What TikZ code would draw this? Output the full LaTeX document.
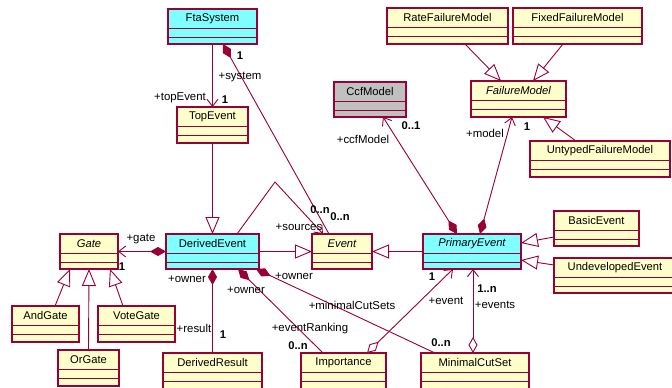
\documentclass[tikz,border=0pt]{standalone}
\usepackage{fontspec}
\setmainfont{Liberation Sans}
\usetikzlibrary{arrows.meta,calc}
\definecolor{bc}{RGB}{153,0,51}
\definecolor{yel}{RGB}{255,255,204}
\definecolor{cyn}{RGB}{128,255,255}
\definecolor{gry}{RGB}{192,192,192}
\newcommand\umlbox[7]{%
  \node[classbox, fill=#6, minimum width={(#4-#2)*1pt}, minimum height={(#5-#3)*1pt}, anchor=north west] (#1) at (#2,#3) {};
  \draw[compline] ([yshift=-19pt]#1.north west) -- ([yshift=-19pt]#1.north east);
  \draw[compline] ([yshift=-28pt]#1.north west) -- ([yshift=-28pt]#1.north east);
  \node[clsname] (#1-name) at ([yshift=-9.5pt]#1.north) {#7};
}
\tikzset{
  classbox/.style={draw=bc, line width=1.2pt, inner sep=0pt, outer sep=0pt, rectangle},
  compline/.style={draw=bc, line width=0.8pt},
  clsname/.style={font=\fontsize{11.2}{13}\selectfont, inner sep=0pt},
  conn/.style={draw=bc, line width=0.9pt},
  gen/.style={-{Triangle[open, length=17pt, width=14pt, fill=white]}},
  nav/.style={-{Straight Barb[length=7pt, width=11pt]}},
  lab/.style={font=\fontsize{11.4}{13}\selectfont, inner sep=0pt},
  mult/.style={font=\fontsize{11.2}{13}\selectfont\bfseries, inner sep=0pt},
}
\begin{document}
\begin{tikzpicture}[x=1pt, y=-1pt]
\useasboundingbox[fill=white] (0,0) rectangle (672,388);
% classes
\umlbox{fta}{168}{9}{257}{44}{cyn}{FtaSystem}
\umlbox{top}{177}{107}{248}{143}{yel}{TopEvent}
\umlbox{ccf}{334}{82}{406}{117}{gry}{CcfModel}
\umlbox{rate}{387}{8}{508}{44}{yel}{RateFailureModel}
\umlbox{fixed}{513}{8}{642}{44}{yel}{FixedFailureModel}
\umlbox{fm}{471}{81}{566}{117}{yel}{\itshape FailureModel}
\umlbox{untyped}{530}{141}{670}{177}{yel}{UntypedFailureModel}
\umlbox{gate}{60}{234}{118}{269}{yel}{\itshape Gate}
\umlbox{de}{166}{234}{259}{269}{cyn}{DerivedEvent}
\umlbox{ev}{312}{234}{372}{269}{yel}{\itshape Event}
\umlbox{pe}{423}{234}{521}{269}{cyn}{\itshape PrimaryEvent}
\umlbox{basic}{554}{211}{639}{246}{yel}{BasicEvent}
\umlbox{undev}{554}{258}{676}{293}{yel}{UndevelopedEvent}
\umlbox{and}{12}{306}{79}{342}{yel}{AndGate}
\umlbox{vote}{98}{306}{175}{342}{yel}{VoteGate}
\umlbox{or}{58}{350}{119}{386}{yel}{OrGate}
\umlbox{dr}{163}{353}{262}{389}{yel}{DerivedResult}
\umlbox{imp}{301}{353}{386}{389}{yel}{Importance}
\umlbox{mcs}{421}{353}{529}{389}{yel}{MinimalCutSet}
% connectors
\draw[conn, nav] (fta.south) -- (top.north);
\draw[conn, {Diamond[length=16pt,width=9pt]}-] ([xshift=10.5pt]fta.south) -- ([xshift=-13pt]ev.north);
\draw[conn, gen] (top.south) -- (de.north);
\draw[conn, gen] (de.east) -- (ev.west);
\coordinate (apex) at (275,182);
\draw[conn, nav] ([xshift=24.5pt]de.north) -- (apex) -- ([xshift=-19pt]ev.north);
\draw[conn, {Diamond[length=16pt,width=9pt]}-{Straight Barb[length=7pt, width=11pt]}] (de.west) -- (gate.east);
\draw[conn, gen] ([xshift=9.5pt]and.north) -- ([xshift=-19pt]gate.south);
\draw[conn, gen] (or.north) -- (gate.south);
\draw[conn, gen] ([xshift=-13.5pt]vote.north) -- ([xshift=21pt]gate.south);
\draw[conn, {Diamond[length=16pt,width=9pt]}-] (de.south) -- (dr.north);
\draw[conn, {Diamond[length=16pt,width=9pt]}-] ([xshift=25.5pt]de.south) -- ([xshift=-20.5pt]imp.north);
\draw[conn, {Diamond[length=16pt,width=9pt]}-] ([xshift=-3pt]de.south east) -- ([xshift=-40pt]mcs.north);
\draw[conn, gen] (pe.west) -- (ev.east);
\draw[conn, gen] ([yshift=-8.5pt]basic.west) -- ([yshift=8.5pt]pe.east);
\draw[conn, gen] ([yshift=10.5pt]undev.west) -- ([yshift=-8.5pt]pe.east);
\draw[conn, {Diamond[length=16pt,width=9pt]}-{Straight Barb[length=7pt, width=11pt]}] ([xshift=-15pt]pe.north) -- ([xshift=13pt]ccf.south);
\draw[conn, {Diamond[length=16pt,width=9pt]}-{Straight Barb[length=7pt, width=11pt]}] ([xshift=8pt]pe.north) -- ([xshift=-6.5pt]fm.south);
\draw[conn, gen] ([xshift=17.5pt]rate.south) -- ([xshift=-17.5pt]fm.north);
\draw[conn, gen] ([xshift=-14.5pt]fixed.south) -- ([xshift=14.5pt]fm.north);
\draw[conn, gen] ([xshift=-24pt]untyped.north) -- ([xshift=24.5pt]fm.south);
\draw[conn, {Diamond[open,length=16pt,width=9pt,fill=white]}-{Straight Barb[length=7pt, width=11pt]}] ([xshift=23.5pt]imp.north) -- ([xshift=-19pt]pe.south);
\draw[conn, {Diamond[open,length=16pt,width=9pt,fill=white]}-{Straight Barb[length=7pt, width=11pt]}] ([xshift=-2pt]mcs.north) -- ([xshift=1pt]pe.south);
% labels
\node[lab] (l1) at (240,77) {+system};
\node[lab] (l2) at (180,98) {+topEvent};
\node[mult] (m1) at (225,100) {1};
\node[mult] (m2) at (240,56) {1};
\node[lab] (l3) at (363,139) {+ccfModel};
\node[mult] (m3) at (411,126) {0..1};
\node[lab] (l4) at (485,133) {+model};
\node[mult] (m4) at (527,127) {1};
\node[mult] (m5) at (320,210) {0..n};
\node[mult] (m6) at (340,217) {0..n};
\node[lab] (l5) at (299,227) {+sources};
\node[lab] (l6) at (141,239) {+gate};
\node[mult] (m7) at (122,267) {1};
\node[lab] (l7) at (187,279) {+owner};
\node[lab] (l8) at (246,290) {+owner};
\node[lab] (l9) at (294,276) {+owner};
\node[lab] (l10) at (194,328) {+result};
\node[mult] (m8) at (223,335) {1};
\node[lab] (l11) at (310,329) {+eventRanking};
\node[mult] (m9) at (298,346) {0..n};
\node[lab] (l12) at (352,305) {+minimalCutSets};
\node[mult] (m10) at (441,343) {0..n};
\node[mult] (m11) at (432,277) {1};
\node[lab] (l13) at (446,301) {+event};
\node[mult] (m12) at (487,289) {1..n};
\node[lab] (l14) at (495,305) {+events};
\end{tikzpicture}
\end{document}
